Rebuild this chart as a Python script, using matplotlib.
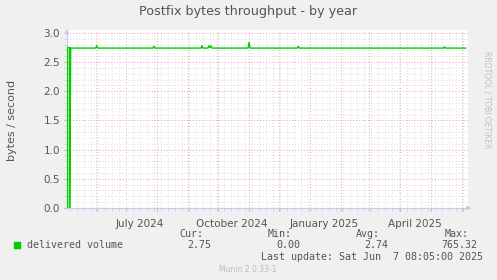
import pandas as pd
import matplotlib
matplotlib.use("Agg")
import matplotlib.pyplot as plt
import matplotlib.dates as mdates
from matplotlib.ticker import MultipleLocator

# series (bytes / second)
dates = ["2024-05-04", "2024-05-04", "2024-05-06", "2024-05-06", "2024-05-07",
         "2024-06-01", "2024-06-02", "2024-06-03",
         "2024-07-28", "2024-07-29", "2024-07-30",
         "2024-09-14", "2024-09-15", "2024-09-16",
         "2024-09-21", "2024-09-22", "2024-09-23", "2024-09-24", "2024-09-25",
         "2024-10-31", "2024-11-01", "2024-11-02",
         "2024-12-19", "2024-12-20", "2024-12-21",
         "2025-05-14", "2025-05-15", "2025-05-16",
         "2025-06-05"]
values = [0.0, 2.75, 2.75, 0.0, 2.74,
          2.74, 2.78, 2.74,
          2.74, 2.77, 2.74,
          2.74, 2.78, 2.74,
          2.74, 2.78, 2.75, 2.78, 2.74,
          2.74, 2.84, 2.74,
          2.74, 2.77, 2.74,
          2.74, 2.76, 2.74,
          2.74]

month_labels = ["July 2024", "October 2024", "January 2025", "April 2025"]
label_dates = ["2024-07-15", "2024-10-15", "2025-01-15", "2025-04-15"]

legend_name = "delivered volume"
cur, vmin, avg, vmax = "2.75", "0.00", "2.74", "765.32"
last_update = pd.Timestamp("2025-06-07 08:05:00")

bg = "#F0F0F0"
green = "#00CC00"
axis_col = "#C8C8F0"
text_col = "#555555"

fig = plt.figure(figsize=(4.97, 2.80), dpi=100, facecolor=bg)
ax = fig.add_axes([67 / 497, 72 / 280, 401 / 497, 178 / 280])
ax.set_facecolor("white")

x = pd.to_datetime(dates)
ax.plot(x, values, color=green, lw=1.0, zorder=3)

start = last_update - pd.Timedelta(days=400)
ax.set_xlim(start, last_update)
ax.set_ylim(0, 3.05)

# grids
ax.xaxis.set_major_locator(mdates.MonthLocator())
ax.xaxis.set_minor_locator(mdates.WeekdayLocator(byweekday=mdates.MO))
ax.yaxis.set_major_locator(MultipleLocator(0.5))
ax.yaxis.set_minor_locator(MultipleLocator(0.1))
ax.grid(which="minor", color="#DDDDDD", lw=0.7, ls=(0, (1, 2)))
ax.grid(which="major", color="#F4A0A0", lw=0.7, ls=(0, (1, 2)))
ax.set_axisbelow(True)

ax.xaxis.set_major_formatter(plt.NullFormatter())
ax.tick_params(axis="x", which="major", length=2, color="#F4A0A0")
ax.tick_params(axis="x", which="minor", length=2, color="#D0D0D0")
ax.tick_params(axis="y", which="major", length=2, color="#F4A0A0",
               labelsize=7.5, labelcolor=text_col, pad=3)
ax.tick_params(axis="y", which="minor", length=2, color="#D0D0D0")
ax.set_yticklabels([f"{v:.1f}" for v in ax.get_yticks()])

for lab, d in zip(month_labels, label_dates):
    ax.text(pd.Timestamp(d), -0.06, lab, transform=ax.get_xaxis_transform(),
            ha="center", va="top", fontsize=7.5, color=text_col)

for side in ["top", "right"]:
    ax.spines[side].set_visible(False)
for side in ["left", "bottom"]:
    ax.spines[side].set_color(axis_col)
    ax.spines[side].set_linewidth(0.8)

# axis arrows
ax.annotate("", xy=(0, 1.02), xytext=(0, 0.97), xycoords="axes fraction",
            arrowprops=dict(arrowstyle="-|>", color=axis_col, lw=0.8,
                            mutation_scale=6), annotation_clip=False)
ax.annotate("", xy=(1.015, 0), xytext=(0.99, 0), xycoords="axes fraction",
            arrowprops=dict(arrowstyle="-|>", color=axis_col, lw=0.8,
                            mutation_scale=6), annotation_clip=False)

fig.text(12 / 497, 1 - 120 / 280, "bytes / second", rotation=90,
         ha="center", va="center", fontsize=8, color=text_col)

fig.text(248 / 497, 1 - 12 / 280, "Postfix bytes throughput - by year",
         ha="center", va="center", fontsize=9.2, color=text_col)
fig.text(487 / 497, 1 - 100 / 280, "RRDTOOL / TOBI OETIKER", rotation=-90,
         ha="center", va="center", fontsize=5.5, color="#C0C0C0")

# legend block
mono = "DejaVu Sans Mono"
fs = 7.2
fig.patches.append(plt.Rectangle((14 / 497, 1 - 248 / 280), 6 / 497, 6 / 280,
                                 transform=fig.transFigure, color=green))
for lab, xr in zip(["Cur:", "Min:", "Avg:", "Max:"], [203, 292, 380, 469]):
    fig.text(xr / 497, 1 - 234 / 280, lab, ha="right", va="center",
             family=mono, fontsize=fs, color=text_col)
fig.text(27 / 497, 1 - 245 / 280, legend_name, ha="left", va="center",
         family=mono, fontsize=fs, color=text_col)
for val, xr in zip([cur, vmin, avg, vmax], [211, 300, 388, 477]):
    fig.text(xr / 497, 1 - 245 / 280, val, ha="right", va="center",
             family=mono, fontsize=fs, color=text_col)
fig.text(483 / 497, 1 - 257 / 280,
         "Last update: " + last_update.strftime("%a %b ") + f"{last_update.day:2d}"
         + last_update.strftime(" %H:%M:%S %Y"),
         ha="right", va="center", family=mono, fontsize=fs, color=text_col)
fig.text(248 / 497, 1 - 269 / 280, "Munin 2.0.33-1", ha="center", va="center",
         fontsize=5.5, color="#BBBBBB")

fig.savefig("out.png", dpi=100, facecolor=bg)
